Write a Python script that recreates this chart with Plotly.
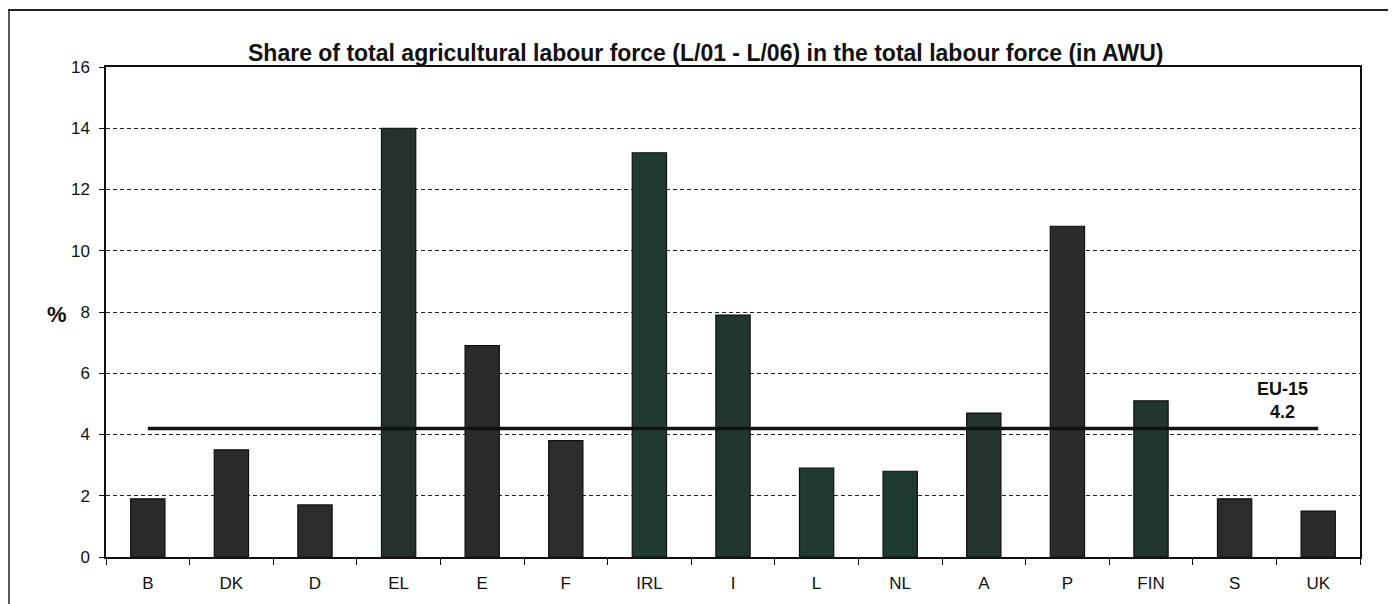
import plotly.graph_objects as go

countries = ["B", "DK", "D", "EL", "E", "F", "IRL", "I", "L", "NL", "A", "P", "FIN", "S", "UK"]
shares = [1.9, 3.5, 1.7, 14.0, 6.9, 3.8, 13.2, 7.9, 2.9, 2.8, 4.7, 10.8, 5.1, 1.9, 1.5]
eu15_value = 4.2
y_ticks = [0, 2, 4, 6, 8, 10, 12, 14, 16]

bar_colors = ["#2a2a2a", "#2b2b2b", "#2c2c2c", "#25302c", "#2b2b2b", "#2c2c2c", "#1f3b32",
              "#23352f", "#1f3a31", "#1f3a31", "#253530", "#2b2b2b", "#23352f", "#2c2c2c", "#2b2b2b"]

OFF = 8  # default page body margin
W, H = 1396 - OFF, 604 - OFF
ml, mr, mt, mb = 106 - OFF, 36, 67 - OFF, 47
pw, ph = W - ml - mr, H - mt - mb

def px(x):
    return (x - OFF - ml) / pw

def py(y):
    return (H - mb - (y - OFF)) / ph

FONT = "Liberation Sans, Arial"

fig = go.Figure()
fig.add_trace(go.Bar(
    x=countries, y=shares,
    marker=dict(color=bar_colors, line=dict(color="#111111", width=1.2)),
    showlegend=False,
))
fig.add_trace(go.Scatter(
    x=[countries[0], countries[-1]], y=[eu15_value, eu15_value],
    mode="lines", line=dict(color="#111111", width=3.5),
    showlegend=False, hoverinfo="skip",
))
fig.add_annotation(
    x=countries[-1], y=eu15_value, xref="x", yref="y",
    text="<b>EU-15</b><br><b>%.1f</b>" % eu15_value,
    showarrow=False, xshift=-36, yshift=4, yanchor="bottom",
    font=dict(family=FONT, size=18, color="#111111"),
)
fig.add_annotation(
    x=px(705), y=py(53), xref="paper", yref="paper",
    text="<b>Share of total agricultural labour force (L/01 - L/06) in the total labour force (in AWU)</b>",
    showarrow=False, xanchor="center", yanchor="middle",
    font=dict(family=FONT, size=23, color="#111111"),
)
fig.add_annotation(
    x=px(57), y=py(314), xref="paper", yref="paper",
    text="<b>%</b>", showarrow=False, xanchor="center", yanchor="middle",
    font=dict(family=FONT, size=22, color="#111111"),
)

# outer frame
fig.add_shape(type="line", xref="paper", yref="paper",
              x0=px(8), x1=px(1396), y0=py(10), y1=py(10),
              line=dict(color="#222222", width=2))
fig.add_shape(type="line", xref="paper", yref="paper",
              x0=px(9), x1=px(9), y0=py(10), y1=py(604),
              line=dict(color="#222222", width=1.5))

fig.update_layout(
    width=W, height=H,
    margin=dict(l=ml, r=mr, t=mt, b=mb),
    paper_bgcolor="white", plot_bgcolor="white",
    bargap=0.59,
    font=dict(family=FONT, size=17, color="#111111"),
    xaxis=dict(
        type="category", showgrid=False, showline=True, linecolor="#111111", linewidth=1.5,
        mirror=True, ticks="outside", tickson="boundaries", ticklen=6, tickcolor="#111111",
        tickfont=dict(size=17), zeroline=False, ticklabelstandoff=10,
    ),
    yaxis=dict(
        range=[0, 16], tickvals=y_ticks, showgrid=True, gridcolor="#222222",
        griddash="4px,3px", gridwidth=1.2, showline=True, linecolor="#111111", linewidth=1.5,
        mirror=True, ticks="outside", ticklen=5, tickcolor="#111111",
        tickfont=dict(size=17), zeroline=False, ticklabelstandoff=6,
    ),
)

fig.write_html("out.html")
